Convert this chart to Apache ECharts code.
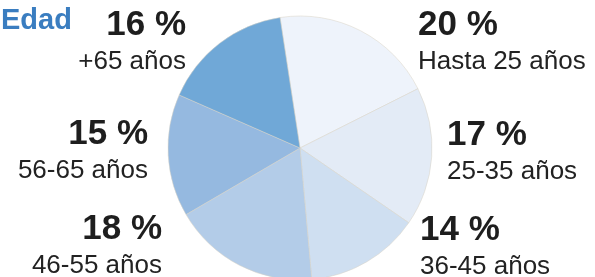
<!DOCTYPE html>
<html>
<head>
<meta charset="utf-8">
<script src="https://cdn.jsdelivr.net/npm/echarts@6/dist/echarts.min.js"></script>
<style>
html,body{margin:0;padding:0;background:#fff;}
#chart{width:595px;height:277px;}
</style>
</head>
<body>
<div id="chart"></div>
<script>
// datos: grupos de edad (sentido horario desde arriba)
var grupos = ['Hasta 25 años', '25-35 años', '36-45 años', '46-55 años', '56-65 años', '+65 años'];
var porcentajes = [20, 17, 14, 18, 15, 16];
var colores = ['#eef3fb', '#e3ebf6', '#cfdff1', '#b3cce8', '#95b9e0', '#70a8d7'];

// posicion de las etiquetas (x, y arriba, alineacion)
var etiquetas = [
    {x: 418, y: 4, align: 'left'},
    {x: 447, y: 114, align: 'left'},
    {x: 420, y: 209, align: 'left'},
    {x: 162, y: 208, align: 'right'},
    {x: 148, y: 113, align: 'right'},
    {x: 186, y: 4, align: 'right'}
];

var myChart = echarts.init(document.getElementById('chart'));

var datos = grupos.map(function(g, i){
    return {name: g, value: porcentajes[i], itemStyle: {color: colores[i]}};
});

var option = {
    animation: false,
    title: {
        text: 'Edad', left: -4, top: 1,
        textStyle: {color: '#3a7dc0', fontSize: 29, fontWeight: 'bold', fontFamily: 'Liberation Sans'}
    },
    series: [{
        type: 'pie',
        center: [300, 148],
        radius: 132,
        startAngle: 98.7,
        clockwise: true,
        silent: true,
        itemStyle: {borderColor: '#d8d2c4', borderWidth: 0.5},
        label: {
            show: true,
            position: 'outside',
            overflow: 'none',
            formatter: '{v|{c} %}\n{n|{b}}',
            rich: {
                v: {fontSize: 35, fontWeight: 'bold', color: '#1e1e1e', lineHeight: 42, fontFamily: 'Liberation Sans'},
                n: {fontSize: 26, color: '#222', lineHeight: 32, fontFamily: 'Liberation Sans'}
            }
        },
        labelLine: {show: false},
        labelLayout: function(params){
            var p = etiquetas[params.dataIndex];
            return {x: p.x, y: p.y, align: p.align, verticalAlign: 'top'};
        },
        data: datos
    }]
};
myChart.setOption(option);

window.addEventListener('resize', function(){
    myChart.resize();
});
</script>
</body>
</html>
